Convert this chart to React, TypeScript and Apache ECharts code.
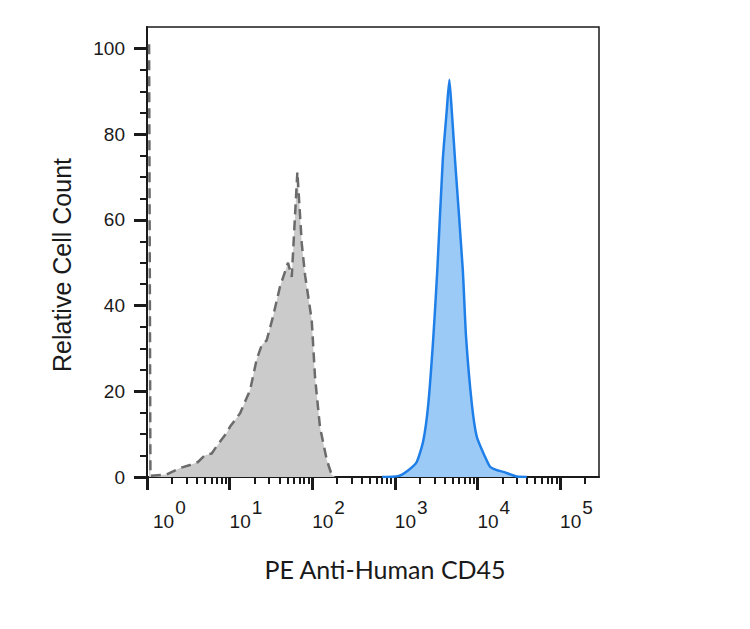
import React, { useEffect, useRef } from "react";
import * as echarts from "echarts";

// Grey (isotype / unstained control) histogram
const GREY_X = [1.06, 1.1, 1.73, 2.51, 3.32, 4.14, 5.04, 6.07, 6.98, 9.22, 10.1, 13.4, 17.7, 21.3, 24.5, 28.1, 33.5, 40.7, 50.9, 56.5, 66.1, 74.7, 81.9, 98.6, 108, 124, 150, 172, 189];
const GREY_Y = [101, 0.3, 0.6, 2.1, 2.8, 3.5, 5.1, 5.5, 7.2, 10.3, 11.7, 14.9, 20.3, 27.5, 30.8, 31.9, 37.4, 44.4, 50.0, 46.7, 71.2, 54.5, 47.1, 36.6, 23.4, 11.7, 4.0, 0.5, 0];

// Blue (PE Anti-Human CD45) histogram
const BLUE_X = [700, 1094, 1457, 1841, 2213, 2545, 2926, 3271, 3802, 4249, 4570, 4885, 5356, 6637, 7278, 8532, 9817, 12360, 14200, 17130, 20560, 29920, 39540];
const BLUE_Y = [0, 0.2, 1.6, 3.5, 8.5, 17.2, 32.7, 48.5, 73.9, 85.5, 92.7, 85.5, 73.9, 48.5, 32.7, 17.2, 9.4, 4.7, 2.4, 1.6, 1.2, 0.1, 0];

const X_MIN = 1;
const X_MAX = 296000;
const X_MAJOR = [1, 10, 100, 1000, 10000, 100000];
const X_MINOR_MULT = [2, 3, 4, 5, 6, 7, 8, 9];
const Y_MIN = 0;
const Y_MAX = 105;
const Y_MAJOR = [0, 20, 40, 60, 80, 100];
const Y_MINOR = [5, 10, 15, 25, 30, 35, 45, 50, 55, 65, 70, 75, 85, 90, 95];

const X_TITLE = "PE Anti-Human CD45";
const Y_TITLE = "Relative Cell Count";

const LABEL_FONT = "'Liberation Sans', Arial, sans-serif";
const INK = "#1a1a1a";

export default function App() {
  const ref = useRef<HTMLDivElement>(null);

  useEffect(() => {
    if (!ref.current) return;
    const chart = echarts.init(ref.current, undefined, { renderer: "svg" });

    const xMinor: number[] = [];
    X_MAJOR.forEach((d) => {
      X_MINOR_MULT.forEach((m) => {
        const v = d * m;
        if (v < X_MAX) xMinor.push(v);
      });
    });

    const grey = GREY_X.map((x, i) => [x, GREY_Y[i]]);
    const blue = BLUE_X.map((x, i) => [x, BLUE_Y[i]]);

    const option: any = {
      animation: false,
      backgroundColor: "#ffffff",
      grid: {
        left: 147,
        top: 27,
        width: 452,
        height: 450,
        show: true,
        borderColor: INK,
        borderWidth: 1.5,
        backgroundColor: "transparent",
      },
      xAxis: [
        {
          type: "log",
          logBase: 10,
          min: X_MIN,
          max: X_MAX,
          position: "bottom",
          splitLine: { show: false },
          axisLine: { show: true, onZero: false, lineStyle: { color: INK, width: 2 } },
          axisTick: {
            show: true,
            customValues: X_MAJOR,
            length: 13,
            lineStyle: { color: INK, width: 3 },
          },
          axisLabel: {
            show: true,
            customValues: X_MAJOR,
            align: "left",
            margin: 35,
            formatter: (v: number) => {
              const e = Math.round(Math.log10(v));
              return e === 0 ? `{f|10}{s|${e}}` : `{b|10}{s|${e}}`;
            },
            rich: {
              b: { fontSize: 19, fontFamily: LABEL_FONT, color: INK, lineHeight: 19, verticalAlign: "bottom" },
              f: { fontSize: 19, fontFamily: LABEL_FONT, color: INK, lineHeight: 19, verticalAlign: "bottom", padding: [0, 0, 0, 6] },
              s: { fontSize: 19, fontFamily: LABEL_FONT, color: INK, lineHeight: 19, verticalAlign: "bottom", padding: [0, 0, 14, 1] },
            },
          },
        },
        {
          type: "log",
          logBase: 10,
          min: X_MIN,
          max: X_MAX,
          position: "bottom",
          splitLine: { show: false },
          axisLine: { show: false },
          axisTick: {
            show: true,
            customValues: xMinor,
            length: 7,
            lineStyle: { color: INK, width: 2 },
          },
          axisLabel: { show: false },
        },
      ],
      yAxis: [
        {
          type: "value",
          min: Y_MIN,
          max: Y_MAX,
          position: "left",
          splitLine: { show: false },
          axisLine: { show: true, onZero: false, lineStyle: { color: INK, width: 2 } },
          axisTick: {
            show: true,
            customValues: Y_MAJOR,
            length: 13,
            lineStyle: { color: INK, width: 3 },
          },
          axisLabel: {
            show: true,
            customValues: Y_MAJOR,
            margin: 22,
            fontSize: 19,
            fontFamily: LABEL_FONT,
            color: INK,
            padding: [4, 0, 0, 0],
          },
        },
        {
          type: "value",
          min: Y_MIN,
          max: Y_MAX,
          position: "left",
          splitLine: { show: false },
          axisLine: { show: false },
          axisTick: {
            show: true,
            customValues: Y_MINOR,
            length: 7,
            lineStyle: { color: INK, width: 2 },
          },
          axisLabel: { show: false },
        },
      ],
      series: [
        {
          type: "line",
          name: "control",
          xAxisIndex: 0,
          yAxisIndex: 0,
          data: grey,
          showSymbol: false,
          symbol: "none",
          clip: true,
          lineStyle: { color: "#6b6b6b", width: 2.5, type: [10, 6] },
          areaStyle: { color: "#cbcbcb", opacity: 1 },
          z: 2,
        },
        {
          type: "line",
          name: "CD45",
          xAxisIndex: 0,
          yAxisIndex: 0,
          data: blue,
          showSymbol: false,
          symbol: "none",
          smooth: 0.2,
          clip: true,
          lineStyle: { color: "#1f7fe8", width: 2.5 },
          areaStyle: { color: "#9ccaf7", opacity: 1 },
          z: 3,
        },
      ],
      graphic: [
        {
          type: "text",
          x: 62,
          y: 265,
          rotation: Math.PI / 2,
          style: {
            text: Y_TITLE,
            fontSize: 25,
            fontFamily: LABEL_FONT,
            fill: INK,
            textAlign: "center",
            textVerticalAlign: "middle",
          },
        },
        {
          type: "text",
          x: 385,
          y: 569,
          style: {
            text: X_TITLE,
            fontSize: 25,
            fontFamily: "Lato, 'Open Sans', sans-serif",
            fill: INK,
            textAlign: "center",
            textVerticalAlign: "middle",
          },
        },
      ],
    };

    chart.setOption(option);
    return () => chart.dispose();
  }, []);

  return (
    <div
      ref={ref}
      style={{ position: "fixed", left: 0, top: 0, width: 750, height: 629, background: "#fff" }}
    />
  );
}
